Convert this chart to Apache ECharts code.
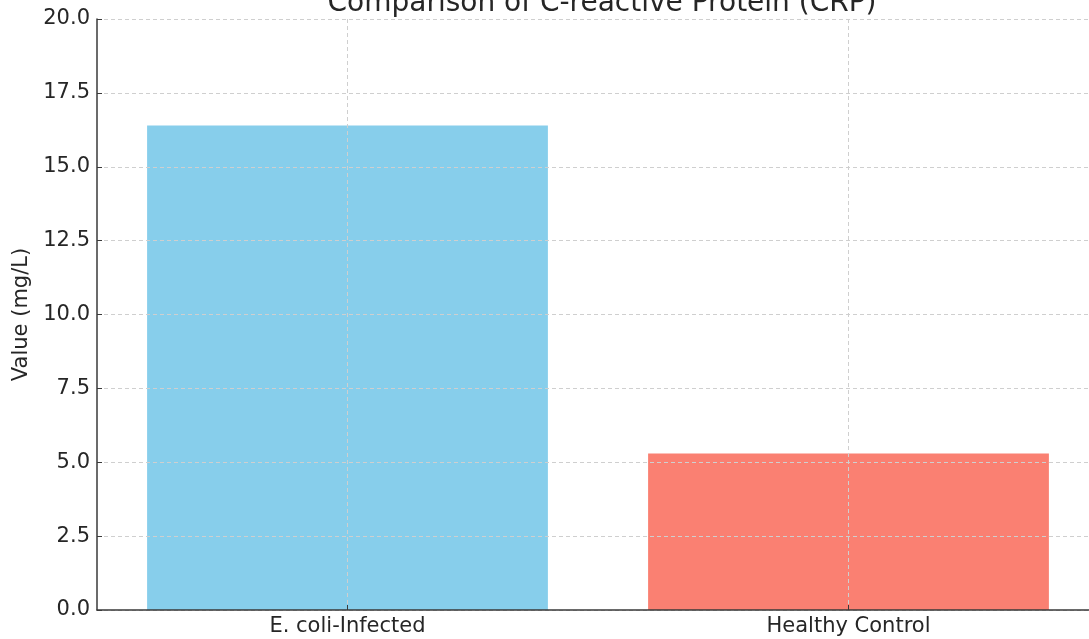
<!DOCTYPE html>
<html lang="en">
<head>
  <meta charset="UTF-8">
  <title>CRP comparison</title>
  <script src="https://cdn.jsdelivr.net/npm/echarts@6/dist/echarts.min.js"></script>
  <style>
    html, body { margin: 0; padding: 0; background: #fff; }
    #chart { width: 1089px; height: 639px; }
  </style>
</head>
<body>
  <div id="chart"></div>
  <script>
    var groups = ['E. coli-Infected', 'Healthy Control'];
    var crpValues = [16.4, 5.3];
    var barColors = ['#87CEEB', '#FA8072'];
    var yTicks = { min: 0, max: 20, step: 2.5 };

    var oChart = echarts.init(document.getElementById('chart'));
    var font = 'DejaVu Sans';

    var barData = [];
    for (var i = 0; i < groups.length; i++) {
      barData.push({ value: crpValues[i], itemStyle: { color: barColors[i] } });
    }

    var option = {
      animation: false,
      title: {
        text: 'Comparison of C-reactive Protein (CRP)',
        left: 597,
        textAlign: 'center',
        top: -15,
        textStyle: { fontFamily: font, fontSize: 28, fontWeight: 'normal', color: '#262626' }
      },
      grid: {
        left: 97,
        top: 19,
        width: 1002,
        height: 591,
        outerBoundsMode: 'none',
        containLabel: false
      },
      xAxis: {
        type: 'category',
        data: groups,
        z: 5,
        axisLine: { lineStyle: { color: '#3a3a3a', width: 1.5 } },
        axisTick: { show: true, inside: true, alignWithLabel: true, length: 5, lineStyle: { color: '#3a3a3a' } },
        axisLabel: { fontFamily: font, fontSize: 21, color: '#262626', margin: 6 },
        splitLine: {
          show: true,
          alignWithLabel: true,
          lineStyle: { color: '#cfcfcf', type: [4, 3], width: 1 }
        }
      },
      yAxis: {
        type: 'value',
        min: yTicks.min,
        max: yTicks.max,
        interval: yTicks.step,
        z: 5,
        name: 'Value (mg/L)',
        nameLocation: 'middle',
        nameGap: 62,
        nameTextStyle: { fontFamily: font, fontSize: 21, color: '#262626' },
        axisLine: { show: true, lineStyle: { color: '#3a3a3a', width: 1.5 } },
        axisTick: { show: true, inside: true, length: 5, lineStyle: { color: '#3a3a3a' } },
        axisLabel: {
          fontFamily: font, fontSize: 21, color: '#262626', margin: 7,
          formatter: function (v) { return v.toFixed(1); }
        },
        splitLine: { show: true, lineStyle: { color: '#cfcfcf', type: [4, 3], width: 1 } }
      },
      series: [
        {
          name: 'CRP',
          type: 'bar',
          barWidth: '80%',
          z: 2,
          data: barData
        }
      ]
    };

    oChart.setOption(option);
  </script>
</body>
</html>
